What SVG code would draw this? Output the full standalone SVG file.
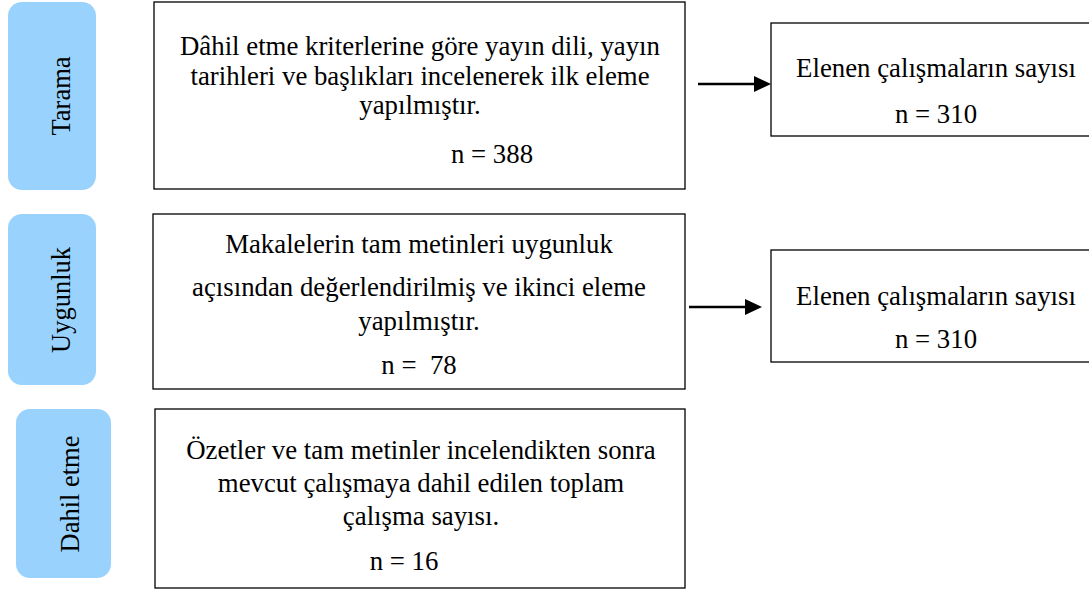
<svg xmlns="http://www.w3.org/2000/svg" width="1089" height="591" viewBox="0 0 1089 591">
<defs>
<style>
.pill{fill:#99d3fd;stroke:none}
.box{fill:#ffffff;stroke:#000;stroke-width:1.3}
.t{font-family:"Liberation Serif","Times New Roman",serif;font-size:26.8px;fill:#000;text-anchor:middle}
.lbl{font-family:"Liberation Serif","Times New Roman",serif;font-size:26.5px;fill:#000;text-anchor:middle}
.conn{stroke:#000;stroke-width:2.5;fill:none}
.head{fill:#000}
</style>
</defs>
<rect width="1089" height="591" fill="#fff"/>
<g id="stage-tarama">
<rect class="pill" x="8" y="2" width="88" height="188" rx="14"/>
<text class="lbl" transform="translate(70,96) rotate(-90)">Tarama</text>
</g>
<g id="stage-uygunluk">
<rect class="pill" x="8" y="214" width="88" height="171" rx="14"/>
<text class="lbl" transform="translate(70,300) rotate(-90)">Uygunluk</text>
</g>
<g id="stage-dahil">
<rect class="pill" x="16" y="409" width="95" height="169" rx="14"/>
<text class="lbl" transform="translate(79,494) rotate(-90)">Dahil etme</text>
</g>
<g id="box-screen">
<rect class="box" x="154" y="2" width="531" height="187"/>
<text class="t" x="420" y="55">Dâhil etme kriterlerine göre yayın dili, yayın</text>
<text class="t" x="420" y="85">tarihleri ve başlıkları incelenerek ilk eleme</text>
<text class="t" x="420" y="114">yapılmıştır.</text>
<text class="t" x="492" y="163">n = 388</text>
</g>
<g id="box-eligibility">
<rect class="box" x="153" y="214" width="532" height="175"/>
<text class="t" x="419" y="253">Makalelerin tam metinleri uygunluk</text>
<text class="t" x="419" y="296">açısından değerlendirilmiş ve ikinci eleme</text>
<text class="t" x="419" y="330">yapılmıştır.</text>
<text class="t" x="419" y="374" xml:space="preserve">n =  78</text>
</g>
<g id="box-included">
<rect class="box" x="155" y="409" width="530" height="179"/>
<text class="t" x="421" y="459">Özetler ve tam metinler incelendikten sonra</text>
<text class="t" x="421" y="492">mevcut çalışmaya dahil edilen toplam</text>
<text class="t" x="421" y="525">çalışma sayısı.</text>
<text class="t" x="404" y="570">n = 16</text>
</g>
<g id="box-excluded-1">
<rect class="box" x="771" y="23" width="330" height="113"/>
<text class="t" x="936" y="77">Elenen çalışmaların sayısı</text>
<text class="t" x="936" y="123">n = 310</text>
</g>
<g id="box-excluded-2">
<rect class="box" x="771" y="250" width="330" height="112"/>
<text class="t" x="936" y="305">Elenen çalışmaların sayısı</text>
<text class="t" x="936" y="348">n = 310</text>
</g>
<g id="connectors">
<line class="conn" x1="698" y1="84" x2="757" y2="84"/>
<path class="head" d="M754,76 L771,84 L754,92 z"/>
<line class="conn" x1="689" y1="307" x2="748" y2="307"/>
<path class="head" d="M745,299 L762,307 L745,315 z"/>
</g>
</svg>
